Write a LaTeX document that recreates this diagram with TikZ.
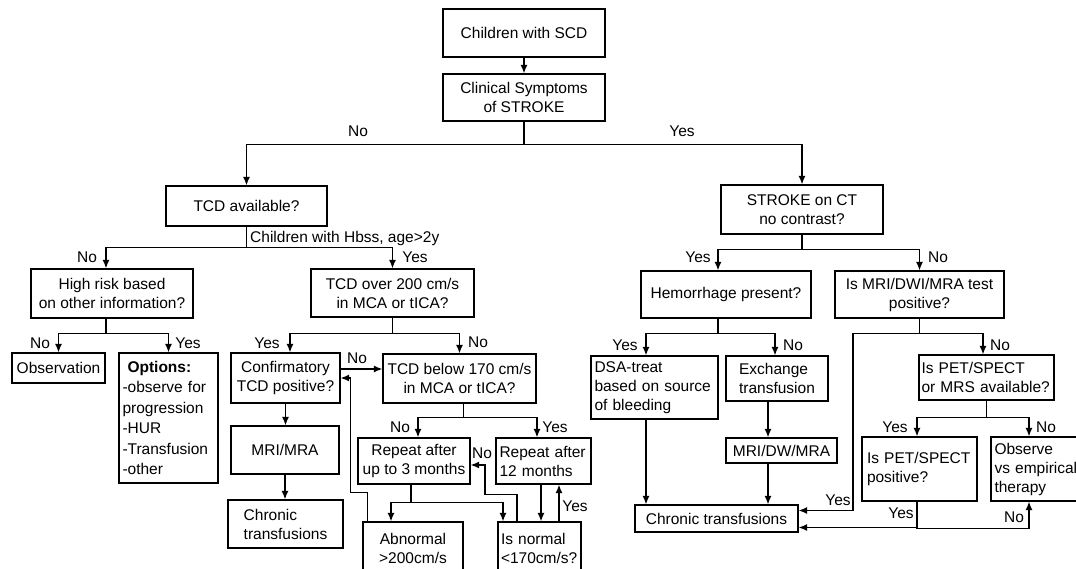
\documentclass[tikz,border=0pt]{standalone}
\usepackage{fontspec}
\setmainfont{Liberation Sans}
\usetikzlibrary{arrows.meta}
\newcommand{\fsz}{\fontsize{15.5}{19}\selectfont}
\tikzset{box/.style = {draw, line width=1.25pt, font=\fsz, align=center, inner sep=2pt}}
\tikzset{lbox/.style = {box, align=left, inner xsep=3.5pt}}
\tikzset{wire/.style = {line width=1.25pt}}
\tikzset{arr/.style = {wire, -{Latex[length=8.5pt, width=7pt]}}}
\tikzset{lbl/.style = {font=\fsz, inner sep=0pt}}

\begin{document}
\begin{tikzpicture}[x=1pt, y=-1pt]
  \useasboundingbox (0,0) rectangle (1076,569);
  \clip (0,0) rectangle (1076,569);

  \node [box, minimum width=162, minimum height=48] (scd) at (524,33) {Children with SCD};
  \node [box, minimum width=162, minimum height=47] (clin) at (524,97.5) {Clinical Symptoms\\of STROKE};
  \node [box, minimum width=161, minimum height=40] (tcdav) at (246.5,206) {TCD available?};
  \node [box, minimum width=162, minimum height=49] (strokect) at (802,209.5) {STROKE on CT\\no contrast?};
  \node [box, minimum width=162, minimum height=49] (highrisk) at (112,293.5) {High risk based\\on other information?};
  \node [box, minimum width=163, minimum height=48] (tcd200) at (392.5,293) {TCD over 200 cm/s\\in MCA or tICA?};
  \node [box, minimum width=170, minimum height=47] (hem) at (726,294.5) {Hemorrhage present?};
  \node [box, minimum width=169, minimum height=47] (mri) at (919.5,294.5) {Is MRI/DWI/MRA test\\positive?};

  \node [box, minimum width=93, minimum height=30] (obs) at (58.5,368) {Observation};
  \node [lbox, text width=92, minimum height=130, font=\fontsize{15.5}{20.5}\selectfont] (options) at (168.5,418)
    {\hspace*{5pt}\textbf{Options:}\\-observe for\\progression\\-HUR\\-Transfusion\\-other};
  \node [box, minimum width=109, minimum height=50] (confirm) at (285.5,378) {Confirmatory\\TCD positive?};
  \node [box, minimum width=153, minimum height=49] (tcd170) at (459.5,378.5) {TCD below 170 cm/s\\in MCA or tICA?};
  \node [box, minimum width=108, minimum height=48] (mrimra) at (285,450) {MRI/MRA};
  \node [box, align=left, minimum width=115, minimum height=48] (chronicL) at (285.5,524) {Chronic\\transfusions};
  \node [box, minimum width=112, minimum height=46] (rep3) at (414,461) {Repeat after\\up to 3 months};
  \node [lbox, text width=88, minimum height=46] (rep12) at (543.5,461) {Repeat after\\12 months};
  \node [box, minimum width=100, minimum height=52] (abn) at (413,548) {Abnormal\\>200cm/s};
  \node [lbox, inner xsep=3pt, text width=77, minimum height=52] (isnorm) at (539.5,548) {Is normal\\<170cm/s?};

  \node [lbox, text width=120, minimum height=63] (dsa) at (654.5,387.5) {DSA-treat\\based on source\\of bleeding};
  \node [box, align=left, minimum width=102, minimum height=45] (exch) at (777,378.5) {Exchange\\transfusion};
  \node [box, minimum width=111, minimum height=25] (mridw) at (781.5,450.5) {MRI/DW/MRA};
  \node [box, minimum width=163, minimum height=27] (chronicR) at (716.5,518.5) {Chronic transfusions};
  \node [lbox, inner xsep=2.5pt, text width=130, minimum height=45] (pet) at (986.5,377.5) {Is PET/SPECT\\or MRS available?};
  \node [lbox, inner xsep=5pt, text width=105, minimum height=64] (petpos) at (919.5,469) {Is PET/SPECT\\positive?};
  \node [lbox, text width=87, minimum height=64] (observe) at (1038,469) {Observe\\vs empirical\\therapy};

  \draw [arr] (scd.south) -- (clin.north);
  \draw [arr] (clin.south) -- ++(0,23) -| (tcdav.north);
  \draw [arr] (clin.south) -- ++(0,23) -| (strokect.north);

  \draw [arr] (tcdav.south) -- ++(0,21) -| ([xshift=-6]highrisk.north);
  \draw [arr] (tcdav.south) -- ++(0,21) -| (tcd200.north);
  \draw [arr] ([xshift=-6]highrisk.south) -- ++(0,15) -| (obs.north);
  \draw [arr] ([xshift=-6]highrisk.south) -- ++(0,15) -| (options.north);

  \draw [arr] (tcd200.south) -- ++(0,16) -| ([xshift=4.5]confirm.north);
  \draw [arr] (tcd200.south) -- ++(0,16) -| (tcd170.north);
  \draw [arr] ([yshift=9]confirm.east) -- ([yshift=9]confirm.east -| tcd170.west);
  \draw [arr] (confirm.south) -- (confirm.south |- mrimra.north);
  \draw [arr] (mrimra.south) -- (mrimra.south |- chronicL.north);

  \draw [arr] ([xshift=4]tcd170.south) -- ++(0,14) -| ([xshift=4]rep3.north);
  \draw [arr] ([xshift=4]tcd170.south) -- ++(0,14) -| ([xshift=-6.5]rep12.north);
  \draw [arr] ([xshift=-3]rep3.south) -- ++(0,18) -| ([xshift=-22]abn.north);
  \draw [arr] ([xshift=-3]rep3.south) -- ++(0,18) -| ([xshift=-36.5]isnorm.north);
  \draw [arr] ([xshift=5]abn.north west) |- ++(-17,-29) |- (confirm.east);
  \draw [arr] ([xshift=-22.5]isnorm.north) |- ++(-32,-27) |- ([yshift=-4]rep3.east);
  \draw [arr] ([xshift=-2.5]rep12.south) -- ([xshift=-2.5]rep12.south |- isnorm.north);
  \draw [arr] ([xshift=19.5]isnorm.north) -- ([xshift=19.5]isnorm.north |- rep12.south);

  \draw [arr] (strokect.south) -- ++(0,15) -| ([xshift=-8]hem.north);
  \draw [arr] (strokect.south) -- ++(0,15) -| (mri.north);
  \draw [arr] ([xshift=-8]hem.south) -- ++(0,15) -| ([xshift=-8.5]dsa.north);
  \draw [arr] ([xshift=-8]hem.south) -- ++(0,15) -| ([xshift=-2]exch.north);
  \draw [arr] ([xshift=-8.5]dsa.south) -- ([xshift=-8.5]dsa.south |- chronicR.north);
  \draw [arr] ([xshift=-9]exch.south) -- ([xshift=-9]exch.south |- mridw.north);
  \draw [arr] ([xshift=-13.5]mridw.south) -- ([xshift=-13.5]mridw.south |- chronicR.north);

  \draw [arr] (mri.south) -- ++(0,15) -- ++(-66.5,0) |- ([yshift=8]chronicR.east);
  \draw [arr] (mri.south) -- ++(0,15) -| ([xshift=-3.5]pet.north);
  \draw [arr] (pet.south) -- ++(0,17) -| ([xshift=-2.5]petpos.north);
  \draw [arr] (pet.south) -- ++(0,17) -| ([xshift=-9]observe.north);
  \draw [arr] ([xshift=-2.5]petpos.south) |- ([yshift=-9]chronicR.east);
  \draw [arr] ([xshift=-2.5]petpos.south) -- ++(0,27) -| ([xshift=-9]observe.south);

  \node [lbl] (noA) at (358,131) {No};
  \node [lbl] (yesA) at (682,131) {Yes};
  \node [lbl, anchor=west] (hbss) at (250,238) {Children with Hbss, age>2y};
  \node [lbl] (noB) at (87,257) {No};
  \node [lbl] (yesB) at (415,257) {Yes};
  \node [lbl] (noC) at (40,343) {No};
  \node [lbl] (yesC) at (188,343) {Yes};
  \node [lbl] (yesD) at (267,343) {Yes};
  \node [lbl] (noD) at (478,342) {No};
  \node [lbl] (noE) at (357,358) {No};
  \node [lbl] (noF) at (400,427) {No};
  \node [lbl] (yesF) at (555,427) {Yes};
  \node [lbl] (noG) at (482,453) {No};
  \node [lbl] (yesG) at (575,506) {Yes};

  \node [lbl] (yesH) at (698,257) {Yes};
  \node [lbl] (noH) at (938,257) {No};
  \node [lbl] (yesI) at (625,345) {Yes};
  \node [lbl] (noI) at (793,345) {No};
  \node [lbl] (yesJ) at (838,500) {Yes};
  \node [lbl] (noJ) at (1000,345) {No};
  \node [lbl] (yesK) at (895,427) {Yes};
  \node [lbl] (noK) at (1046,427) {No};
  \node [lbl] (yesL) at (901,513) {Yes};
  \node [lbl] (noL) at (1014,517) {No};
\end{tikzpicture}
\end{document}
